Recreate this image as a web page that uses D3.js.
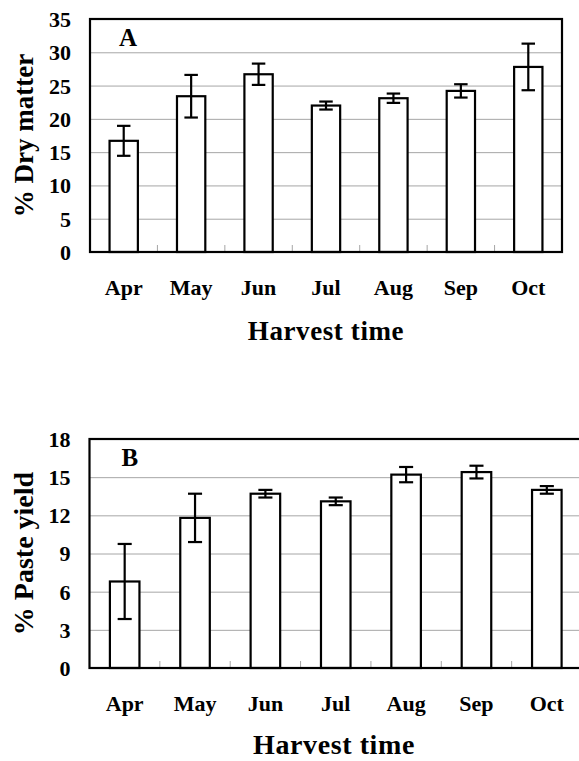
<!DOCTYPE html>
<html>
<head>
<meta charset="utf-8">
<script src="https://cdnjs.cloudflare.com/ajax/libs/d3/7.8.5/d3.min.js"></script>
<style>
  body { margin: 0; background: #fff; }
  svg text { font-family: "Liberation Serif", "Times New Roman", serif; font-weight: bold; fill: #000; }
</style>
</head>
<body>
<div id="container"></div>
<script>
/* CONSTANTS AND GLOBALS */
const width = 579,
      height = 761;

/* DATA */
const months = ["Apr", "May", "Jun", "Jul", "Aug", "Sep", "Oct"];
const dryMatter = [16.7, 23.4, 26.7, 22.0, 23.1, 24.2, 27.8];
const dryMatterErr = [2.25, 3.2, 1.6, 0.6, 0.7, 1.0, 3.5];
const pasteYield = [6.8, 11.8, 13.7, 13.1, 15.2, 15.4, 14.0];
const pasteYieldErr = [2.95, 1.9, 0.3, 0.3, 0.6, 0.5, 0.3];
const dryTicks = [0, 5, 10, 15, 20, 25, 30, 35];
const pasteTicks = [0, 3, 6, 9, 12, 15, 18];

const svg = d3.select("#container")
              .append("svg")
              .attr("width", width)
              .attr("height", height)

function drawPanel(opt) {
  const m = opt.margin;
  const data = months.map((mo, i) => ({ month: mo, value: opt.values[i], err: opt.errs[i] }));

  // SCALES
  const xScale = d3.scaleBand()
                   .domain(months)
                   .range([m.left, m.right])
                   .padding(0)

  const yScale = d3.scaleLinear()
                   .domain([0, d3.max(opt.ticks)])
                   .range([m.bottom, m.top])

  const g = svg.append("g")

  // GRIDLINES
  g.append("g")
   .attr("transform", `translate(${m.left},0)`)
   .call(d3.axisLeft(yScale).tickValues(opt.ticks.slice(1, -1)).tickSize(-(m.right - m.left)).tickFormat(""))
   .call(s => s.select(".domain").remove())
   .call(s => s.selectAll("line").attr("stroke", "#a6a6a6").attr("stroke-width", 1))

  // Y AXIS LABELS
  g.append("g")
   .attr("transform", `translate(${m.left},0)`)
   .call(d3.axisLeft(yScale).tickValues(opt.ticks).tickSize(0).tickPadding(19))
   .call(s => s.select(".domain").remove())
   .call(s => s.selectAll("text").style("font-size", "22px").attr("dy", "0.34em"))

  // X AXIS LABELS
  g.append("g")
   .attr("transform", `translate(0,${m.bottom})`)
   .call(d3.axisBottom(xScale).tickSize(0).tickPadding(opt.xPad))
   .call(s => s.select(".domain").remove())
   .call(s => s.selectAll("text").style("font-size", "22px"))

  // MINOR TICKS BETWEEN CATEGORIES
  g.selectAll("line.minor")
   .data(months.slice(1))
   .join("line")
   .attr("class", "minor")
   .attr("x1", d => xScale(d))
   .attr("x2", d => xScale(d))
   .attr("y1", m.bottom)
   .attr("y2", m.bottom - 7)
   .attr("stroke", "#a6a6a6")

  // BARS
  const barW = xScale.bandwidth() * 0.42;
  g.selectAll("rect.bar")
   .data(data)
   .join("rect")
   .attr("class", "bar")
   .attr("x", d => xScale(d.month) + (xScale.bandwidth() - barW) / 2)
   .attr("y", d => yScale(d.value))
   .attr("width", barW)
   .attr("height", d => m.bottom - yScale(d.value))
   .attr("fill", "#fff")
   .attr("stroke", "#000")
   .attr("stroke-width", 2.2)

  // ERROR BARS
  const capW = xScale.bandwidth() * 0.2;
  const cx = d => xScale(d.month) + xScale.bandwidth() / 2;
  const eb = g.selectAll("g.err")
              .data(data)
              .join("g")
              .attr("class", "err")
              .attr("stroke", "#000")
              .attr("stroke-width", 2.2)
  eb.append("line")
    .attr("x1", cx).attr("x2", cx)
    .attr("y1", d => yScale(d.value + d.err))
    .attr("y2", d => yScale(d.value - d.err))
  eb.append("line")
    .attr("x1", d => cx(d) - capW / 2).attr("x2", d => cx(d) + capW / 2)
    .attr("y1", d => yScale(d.value + d.err)).attr("y2", d => yScale(d.value + d.err))
  eb.append("line")
    .attr("x1", d => cx(d) - capW / 2).attr("x2", d => cx(d) + capW / 2)
    .attr("y1", d => yScale(d.value - d.err)).attr("y2", d => yScale(d.value - d.err))

  // PLOT BOX
  g.append("rect")
   .attr("x", m.left)
   .attr("y", m.top)
   .attr("width", m.right - m.left)
   .attr("height", m.bottom - m.top)
   .attr("fill", "none")
   .attr("stroke", "#000")
   .attr("stroke-width", 2.2)

  // PANEL LETTER
  g.append("text")
   .attr("x", m.left + opt.letterDx)
   .attr("y", m.top + 27)
   .style("font-size", "25px")
   .text(opt.letter)

  // AXIS TITLES
  g.append("text")
   .attr("transform", `translate(33,${(m.top + m.bottom) / 2}) rotate(-90)`)
   .attr("text-anchor", "middle")
   .style("font-size", opt.ySize)
   .text(opt.yTitle)

  g.append("text")
   .attr("x", opt.xTitleX)
   .attr("y", opt.xTitleY)
   .attr("text-anchor", "middle")
   .style("font-size", opt.xSize)
   .style("letter-spacing", "0.6px")
   .text("Harvest time")
}

drawPanel({
  margin: { left: 90, right: 562, top: 19, bottom: 252 },
  values: dryMatter, errs: dryMatterErr, ticks: dryTicks,
  letter: "A", letterDx: 29,
  yTitle: "% Dry matter", ySize: "27px",
  xPad: 27, xTitleX: 326, xTitleY: 340, xSize: "27px"
});

drawPanel({
  margin: { left: 89.5, right: 582, top: 439, bottom: 668 },
  values: pasteYield, errs: pasteYieldErr, ticks: pasteTicks,
  letter: "B", letterDx: 32,
  yTitle: "% Paste yield", ySize: "28px",
  xPad: 27, xTitleX: 334, xTitleY: 754, xSize: "28px"
});
</script>
</body>
</html>
